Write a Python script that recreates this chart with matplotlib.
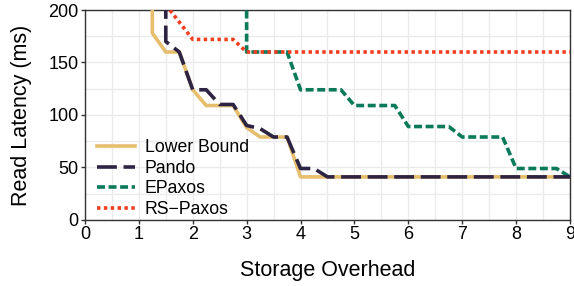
#!/usr/bin/env python3

"""Read latency vs storage overhead for several protocols."""

import matplotlib
matplotlib.use('Agg')
import matplotlib.pyplot as plt
from matplotlib.ticker import MultipleLocator

plt.rcParams['font.family'] = ['Liberation Sans', 'DejaVu Sans']

lower_x = [1.25, 1.25, 1.5, 1.75, 2.0, 2.25, 2.75, 3.0, 3.25, 3.75, 4.0, 9.0]
lower_y = [260, 178, 160, 160, 124, 109, 109, 88, 79, 79, 41, 41]

pando_x = [1.5, 1.5, 1.75, 2.0, 2.25, 2.5, 2.75, 3.0, 3.25, 3.5, 3.75, 4.0, 4.25, 4.5, 9.0]
pando_y = [260, 170, 160, 124, 124, 110, 110, 90, 87, 79, 79, 49, 49, 41, 41]

epaxos_x = [3.0, 3.0, 3.75, 4.0, 4.75, 5.0, 5.75, 6.0, 6.75, 7.0, 7.75, 8.0, 8.75, 9.0]
epaxos_y = [260, 160, 160, 124, 124, 109, 109, 89, 89, 79, 79, 49, 49, 41]

rspaxos_x = [1.5, 2.0, 2.75, 3.0, 9.0]
rspaxos_y = [205, 172, 172, 160, 160]

fig = plt.figure(figsize=(5.74, 2.86), dpi=100)
ax = fig.add_axes([0.148, 0.231, 0.845, 0.734])

lw = 2.6
ax.plot(lower_x, lower_y, color='#E6BE6E', lw=lw, label='Lower Bound', zorder=3)
ax.plot(pando_x, pando_y, color='#2D2342', lw=lw, dashes=(5.5, 1.85),
        label='Pando', zorder=4)
ax.plot(epaxos_x, epaxos_y, color='#0B7A5A', lw=lw, dashes=(2.2, 1.0),
        label='EPaxos', zorder=3)
ax.plot(rspaxos_x, rspaxos_y, color='#F23D1E', lw=lw, dashes=(0.95, 0.95),
        label='RS\u2212Paxos', zorder=3)

ax.set_xlim(0, 9)
ax.set_ylim(0, 200)
ax.xaxis.set_major_locator(MultipleLocator(1))
ax.xaxis.set_minor_locator(MultipleLocator(0.5))
ax.yaxis.set_major_locator(MultipleLocator(50))
ax.yaxis.set_minor_locator(MultipleLocator(25))
ax.grid(which='both', color='#EBEBEB', lw=1.0, zorder=0)
ax.set_axisbelow(True)

for spine in ax.spines.values():
    spine.set_color('#333333')
    spine.set_linewidth(1.0)
ax.tick_params(which='major', length=3, width=1, color='#333333',
               labelsize=13, labelcolor='black', pad=1.5)
ax.tick_params(which='minor', length=0)

ax.set_xlabel('Storage Overhead', fontsize=15.5, labelpad=12)
ax.set_ylabel('Read Latency (ms)', fontsize=15.5, labelpad=12)

ax.legend(loc='lower left', bbox_to_anchor=(0.024, 0.01), frameon=False,
          fontsize=12.7, handlelength=2.15, handletextpad=0.57,
          labelspacing=0.2, borderpad=0, borderaxespad=0)

fig.savefig('out.png', dpi=100)
